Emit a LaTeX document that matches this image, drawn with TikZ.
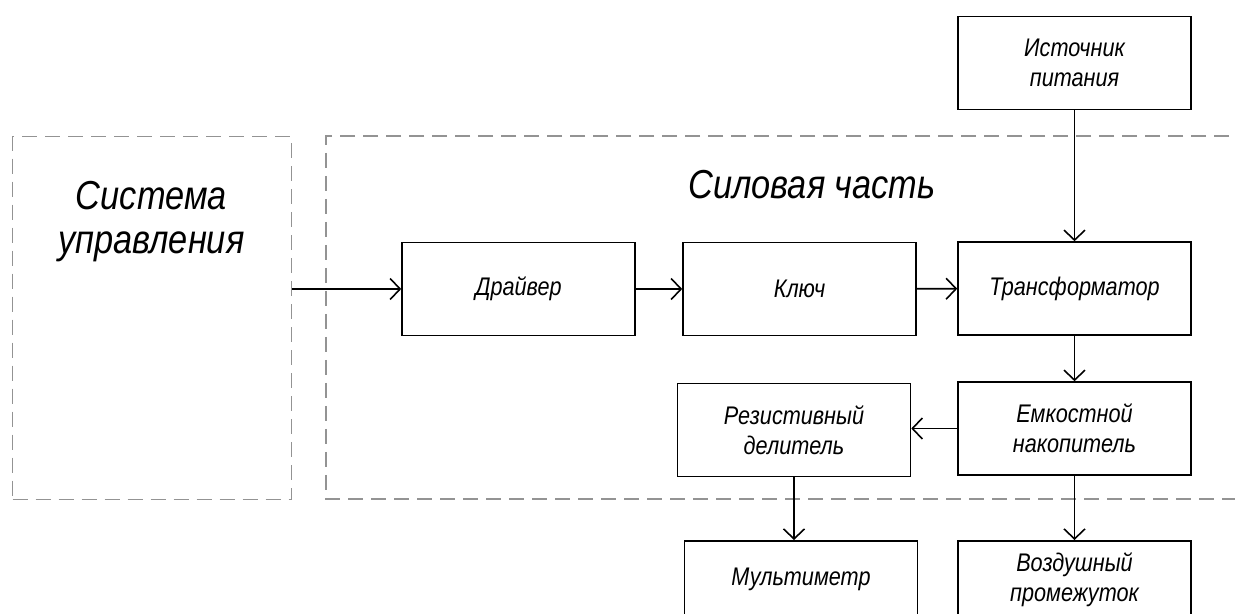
\documentclass[tikz,border=0pt]{standalone}
\usepackage{fontspec}
\setmainfont{Liberation Sans}[FakeStretch=0.85]
\usetikzlibrary{arrows.meta,positioning}

\tikzset{
  block/.style={draw, line width=0.9pt, minimum width=4.66cm, minimum height=1.86cm,
    align=center, font=\fontsize{14.5}{17}\selectfont\itshape},
  frame/.style={draw=gray!85, line width=0.6pt, dash pattern=on 3mm off 1.6mm},
  link/.style={line width=0.9pt, -{Straight Barb[length=2mm,width=4.2mm]}},
  title/.style={align=center, font=\fontsize{23}{25}\selectfont\itshape}
}

\begin{document}
\begin{tikzpicture}
\clip (0,0) rectangle (24.7,-12.28);

% dashed frames
\node[frame, minimum width=5.58cm, minimum height=7.26cm, anchor=north west] (ctrl) at (0.24,-2.72) {};
\node[title] (ctrltext) at (3.03,-4.44) {Система\\управления};
\draw[frame] (25.5,-2.72) -| (6.52,-9.98) -- (25.5,-9.98);
\node[title] (powtext) at (16.24,-3.7) {Силовая часть};

% blocks
\node[block] (src) at (21.49,-1.26) {Источник\\питания};
\node[block] (trans) at (21.49,-5.77) {Трансформатор};
\node[block] (drv) at (10.37,-5.78) {Драйвер};
\node[block] (key) at (15.99,-5.78) {Ключ};
\node[block] (cap) at (21.49,-8.57) {Емкостной\\накопитель};
\node[block] (res) at (15.88,-8.6) {Резистивный\\делитель};
\node[block, anchor=north, minimum height=1.55cm] (mult) at (16.02,-10.8) {Мультиметр};
\node[block, anchor=north, minimum height=1.55cm] (air) at (21.49,-10.8) {Воздушный\\промежуток};

% links
\draw[link] (ctrl.east |- drv.west) -- (drv.west);
\draw[link] (drv) -- (key);
\draw[link] (key) -- (trans);
\draw[link] (src) -- (trans);
\draw[link] (trans) -- (cap);
\draw[link] (cap.west) -- (cap.west -| res.east);
\draw[link] (res.south) -- (res.south |- mult.north);
\draw[link] (cap) -- (air);
\end{tikzpicture}
\end{document}
